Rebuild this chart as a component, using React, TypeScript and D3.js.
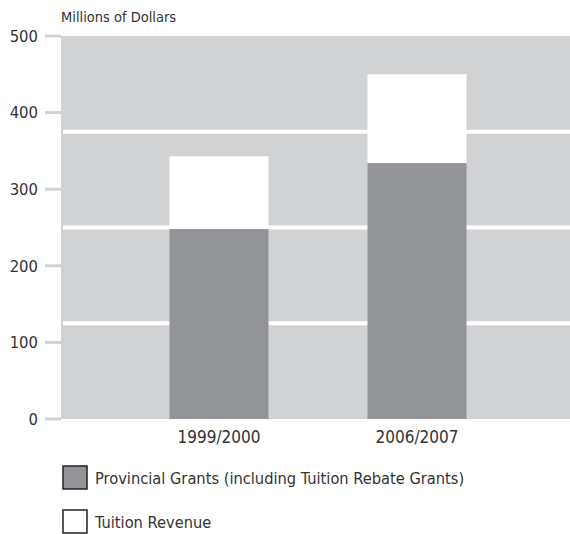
import React from "react";
import * as d3 from "d3";

const categories = ["1999/2000", "2006/2007"];
const provincialGrants = [248, 334];
const tuitionRevenue = [95, 116];
const yTicks = [0, 100, 200, 300, 400, 500];
const gridValues = [125, 250, 375];
const legendLabels = ["Provincial Grants (including Tuition Rebate Grants)", "Tuition Revenue"];

const W = 570, H = 534;
const plotLeft = 61, plotRight = 570, plotTop = 36, plotBottom = 419;
const FONT = "'DejaVu Sans Condensed', sans-serif";
const TEXT = "#333333";

export default function App() {
  const y = d3.scaleLinear().domain([0, 500]).range([plotBottom, plotTop]);
  const x = d3.scaleBand<string>().domain(categories).range([120, 516]).paddingInner(0.5).paddingOuter(0.25);
  const bw = x.bandwidth();
  const colors = ["#929497", "#ffffff"];
  return (
    <svg width={W} height={H} style={{ position: "absolute", left: 0, top: 0, fontFamily: FONT }}>
      <rect x={plotLeft} y={plotTop} width={plotRight - plotLeft} height={plotBottom - plotTop} fill="#d1d2d4" />
      {gridValues.map((g) => (
        <line key={g} x1={plotLeft + 2} x2={plotRight} y1={y(g)} y2={y(g)} stroke="#ffffff" strokeWidth={4} />
      ))}
      {yTicks.map((t) => (
        <g key={t}>
          <line x1={45} x2={plotLeft} y1={y(t)} y2={y(t)} stroke="#d1d2d4" strokeWidth={3} />
          <text x={38} y={y(t)} dy="0.35em" textAnchor="end" fontSize={16.5} fill={TEXT}>{t}</text>
        </g>
      ))}
      <text x={61} y={22} fontSize={14.5} fill={TEXT}>Millions of Dollars</text>
      {categories.map((c, i) => {
        const g = provincialGrants[i];
        const total = g + tuitionRevenue[i];
        return (
          <g key={c}>
            <rect x={x(c)} y={y(total)} width={bw} height={y(g) - y(total)} fill={colors[1]} />
            <rect x={x(c)} y={y(g)} width={bw} height={y(0) - y(g)} fill={colors[0]} />
            <text x={(x(c) as number) + bw / 2} y={443} textAnchor="middle" fontSize={17} fill={TEXT}>{c}</text>
          </g>
        );
      })}
      {legendLabels.map((l, i) => (
        <g key={l} transform={`translate(0, ${i * 44})`}>
          <rect x={63} y={466} width={24} height={23} fill={colors[i]} stroke="#231f20" strokeWidth={1.5} />
          <text x={95} y={484} fontSize={16.3} fill={TEXT}>{l}</text>
        </g>
      ))}
    </svg>
  );
}
